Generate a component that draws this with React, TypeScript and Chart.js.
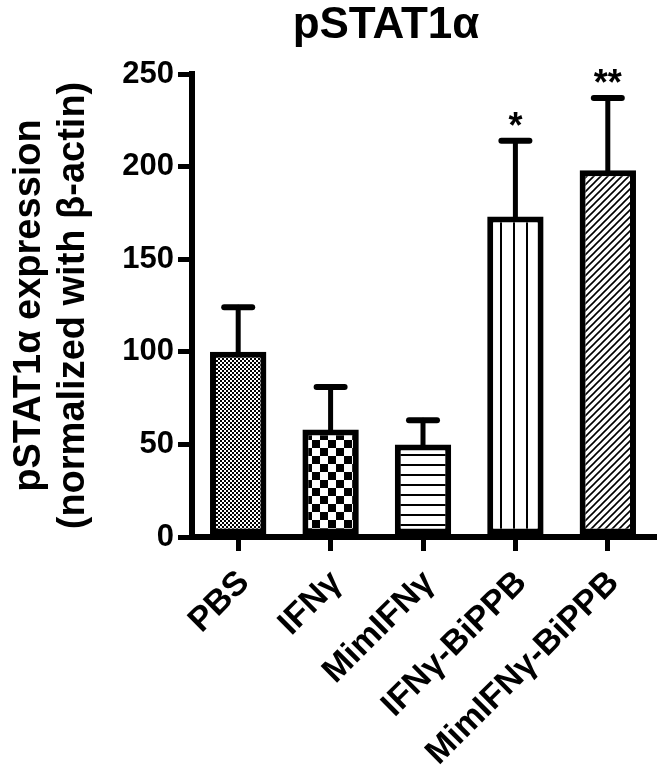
import React, { useEffect, useRef } from 'react';
import { Chart, registerables } from 'chart.js';

Chart.register(...registerables);

const categories = ['PBS', 'IFNγ', 'MimIFNγ', 'IFNγ-BiPPB', 'MimIFNγ-BiPPB'];
const means = [100, 58, 50, 173, 198];
const sem = [24, 23, 13, 41, 39];
const significance = ['', '', '', '*', '**'];
const yTickValues = [0, 50, 100, 150, 200, 250];
const chartTitle = 'pSTAT1α';
const yTitleLines = ['pSTAT1α expression', '(normalized with β-actin)'];
const patternKinds = ['fineChecker', 'coarseChecker', 'hLines', 'vLines', 'diag'];

const FONT = '"Liberation Sans", Arial, Helvetica, sans-serif';

function makePattern(kind: string): CanvasPattern | string {
  const c = document.createElement('canvas');
  let w = 8, h = 8;
  if (kind === 'fineChecker') { w = 4; h = 4; }
  if (kind === 'coarseChecker') { w = 16; h = 16; }
  if (kind === 'hLines') { w = 10; h = 10; }
  if (kind === 'vLines') { w = 13; h = 13; }
  if (kind === 'diag') { w = 7; h = 7; }
  c.width = w; c.height = h;
  const ctx = c.getContext('2d')!;
  ctx.fillStyle = '#fff';
  ctx.fillRect(0, 0, w, h);
  ctx.fillStyle = '#000';
  ctx.strokeStyle = '#000';
  if (kind === 'fineChecker') {
    ctx.fillRect(0, 0, 2, 2);
    ctx.fillRect(2, 2, 2, 2);
  } else if (kind === 'coarseChecker') {
    ctx.fillRect(0, 0, 8, 8);
    ctx.fillRect(8, 8, 8, 8);
  } else if (kind === 'hLines') {
    ctx.fillRect(0, 4, 10, 2);
  } else if (kind === 'vLines') {
    ctx.fillRect(6, 0, 2, 13);
  } else if (kind === 'diag') {
    ctx.lineWidth = 1.6;
    ctx.beginPath();
    ctx.moveTo(-1, 8); ctx.lineTo(8, -1);
    ctx.moveTo(-2, 2); ctx.lineTo(2, -2);
    ctx.moveTo(5, 9); ctx.lineTo(9, 5);
    ctx.stroke();
  }
  return ctx.createPattern(c, 'repeat') || '#fff';
}

const overlayPlugin = {
  id: 'overlay',
  afterDatasetsDraw(chart: any) {
    const ctx = chart.ctx as CanvasRenderingContext2D;
    const xs = chart.scales.x;
    const ys = chart.scales.y;
    const area = chart.chartArea;
    ctx.save();
    // error bars (upper only)
    ctx.strokeStyle = '#000';
    ctx.lineCap = 'round';
    means.forEach((m, i) => {
      const x = xs.getPixelForValue(i);
      const yTop = ys.getPixelForValue(m + sem[i]);
      const yBar = ys.getPixelForValue(m);
      ctx.lineWidth = 5;
      ctx.beginPath();
      ctx.moveTo(x, yBar);
      ctx.lineTo(x, yTop);
      ctx.stroke();
      ctx.lineWidth = 6;
      ctx.beginPath();
      ctx.moveTo(x - 14, yTop);
      ctx.lineTo(x + 14, yTop);
      ctx.stroke();
      // significance stars
      const s = significance[i];
      if (s) {
        ctx.font = `bold 36px ${FONT}`;
        ctx.fillStyle = '#000';
        ctx.textAlign = 'center';
        ctx.textBaseline = 'alphabetic';
        const mt = ctx.measureText(s);
        const asc = mt.actualBoundingBoxAscent;
        const desc = mt.actualBoundingBoxDescent;
        const cy = yTop - 22;
        ctx.fillText(s, x, cy + (asc - desc) / 2);
      }
    });
    // chart title
    ctx.fillStyle = '#000';
    ctx.font = `bold 44px ${FONT}`;
    ctx.textAlign = 'center';
    ctx.textBaseline = 'alphabetic';
    ctx.fillText(chartTitle, 386, 38);
    // y-axis title (two rotated lines)
    const cy = (area.top + area.bottom) / 2;
    ctx.font = `bold 38px ${FONT}`;
    ctx.textBaseline = 'alphabetic';
    const baselineX = [40, 84];
    yTitleLines.forEach((line, k) => {
      ctx.save();
      ctx.translate(baselineX[k], cy);
      ctx.rotate(-Math.PI / 2);
      ctx.fillText(line, 0, 0);
      ctx.restore();
    });
    ctx.restore();
  },
};

export default function App() {
  const canvasRef = useRef<HTMLCanvasElement | null>(null);

  useEffect(() => {
    document.body.style.margin = '0';
    const canvas = canvasRef.current!;
    const patterns = patternKinds.map((k) => makePattern(k));
    const chart = new Chart(canvas, {
      type: 'bar',
      data: {
        labels: categories,
        datasets: [
          {
            data: means,
            backgroundColor: patterns as any,
            borderColor: '#000',
            borderWidth: 6,
            borderSkipped: false,
            barPercentage: 0.61,
            categoryPercentage: 1,
          },
        ],
      },
      options: {
        responsive: false,
        animation: false,
        devicePixelRatio: 1,
        layout: { padding: { top: 74, right: 10, left: 0, bottom: 0 } },
        plugins: {
          legend: { display: false },
          title: { display: false },
          tooltip: { enabled: false },
        },
        scales: {
          x: {
            type: 'category',
            offset: true,
            grid: {
              offset: false,
              drawOnChartArea: false,
              drawTicks: true,
              tickLength: 14,
              lineWidth: 5,
              color: '#000',
            },
            border: { display: true, width: 6, color: '#000' },
            ticks: {
              color: '#000',
              font: { family: FONT, size: 34, weight: 'bold' },
              minRotation: 45,
              maxRotation: 45,
              autoSkip: false,
              padding: 12,
              labelOffset: 6,
            },
            afterFit: (scale: any) => { scale.height = 238; },
          },
          y: {
            type: 'linear',
            min: 0,
            max: 250,
            afterBuildTicks: (scale: any) => {
              scale.ticks = yTickValues.map((v) => ({ value: v }));
            },
            grid: {
              drawOnChartArea: false,
              drawTicks: true,
              tickLength: 14,
              lineWidth: 5,
              color: '#000',
            },
            border: { display: true, width: 6, color: '#000' },
            ticks: {
              color: '#000',
              font: { family: FONT, size: 31, weight: 'bold' },
              padding: 4,
            },
            afterFit: (scale: any) => { scale.width = 192; },
          },
        },
      },
      plugins: [overlayPlugin],
    });
    return () => chart.destroy();
  }, []);

  return (
    <div style={{ width: 664, height: 775, background: '#fff' }}>
      <canvas ref={canvasRef} width={664} height={775} style={{ width: 664, height: 775, display: 'block' }} />
    </div>
  );
}
